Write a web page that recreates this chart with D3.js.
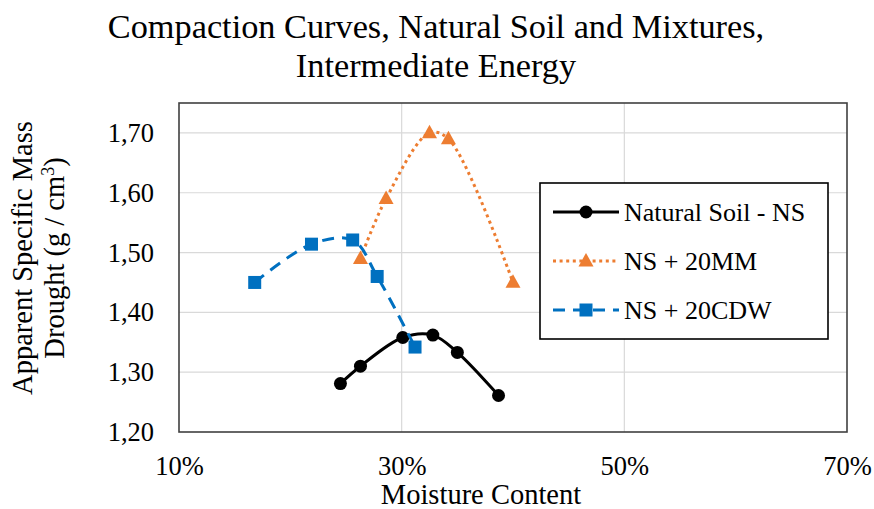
<!DOCTYPE html>
<html>
<head>
<meta charset="utf-8">
<script src="https://cdn.jsdelivr.net/npm/d3@7/dist/d3.min.js"></script>
<style>
  html, body { margin: 0; padding: 0; background: #fff; }
  svg { display: block; font-family: "Liberation Serif", "Times New Roman", serif; }
  svg text { font-family: "Liberation Serif", "Times New Roman", serif; }
</style>
</head>
<body>
<svg id="chart" width="874" height="509"></svg>
<script>
// ---- Data ----
const titleLines = ["Compaction Curves, Natural Soil and Mixtures,", "Intermediate Energy"];
const xTicks = [10, 30, 50, 70];
const yTicks = [1.20, 1.30, 1.40, 1.50, 1.60, 1.70];

const seriesNames = ["Natural Soil - NS", "NS + 20MM", "NS + 20CDW"];
const nsMoisture   = [24.5, 26.3, 30.1, 32.8, 35.0, 38.7];
const nsDensity    = [1.281, 1.310, 1.358, 1.362, 1.333, 1.261];
const mmMoisture   = [26.3, 28.6, 32.5, 34.2, 40.0];
const mmDensity    = [1.490, 1.590, 1.700, 1.690, 1.450];
const cdwMoisture  = [16.8, 21.9, 25.6, 27.8, 31.2];
const cdwDensity   = [1.450, 1.514, 1.521, 1.460, 1.342];

// ---- Layout ----
const svg = d3.select("#chart");
const pL = 179, pR = 847, pT = 103, pB = 432;

const x = d3.scaleLinear().domain([10, 70]).range([pL, pR]);
const y = d3.scaleLinear().domain([1.20, 1.75]).range([pB, pT]);

// Title
svg.append("g").selectAll("text").data(titleLines).join("text")
  .attr("x", 436).attr("y", (d, i) => 38 + i * 39)
  .attr("text-anchor", "middle").attr("font-size", 34.3).attr("fill", "#000")
  .text(d => d);

// Gridlines
svg.append("g").selectAll("line").data(yTicks.filter(v => v > 1.2)).join("line")
  .attr("x1", pL).attr("x2", pR)
  .attr("y1", d => y(d)).attr("y2", d => y(d))
  .attr("stroke", "#d9d9d9").attr("stroke-width", 1.2);
svg.append("g").selectAll("line").data(xTicks.filter(v => v > 10 && v < 70)).join("line")
  .attr("y1", pT).attr("y2", pB)
  .attr("x1", d => x(d)).attr("x2", d => x(d))
  .attr("stroke", "#d9d9d9").attr("stroke-width", 1.2);

// Frame
svg.append("rect").attr("x", pL).attr("y", pT)
  .attr("width", pR - pL).attr("height", pB - pT)
  .attr("fill", "none").attr("stroke", "#404040").attr("stroke-width", 1.6);

// Axes via d3 axis generators (labels only)
const fmtPct = d => d + "%";
const fmtY = d => d3.format(".2f")(d).replace(".", ",");

const xAxis = svg.append("g").attr("transform", `translate(0,${pB})`)
  .call(d3.axisBottom(x).tickValues(xTicks).tickFormat(fmtPct).tickSize(0).tickPadding(0));
xAxis.attr("font-family", null);
xAxis.select(".domain").remove();
xAxis.selectAll("text").attr("font-size", 26.5).attr("fill", "#000")
  .attr("dy", null).attr("y", 43);

const yAxis = svg.append("g").attr("transform", `translate(${pL},0)`)
  .call(d3.axisLeft(y).tickValues(yTicks).tickFormat(fmtY).tickSize(0).tickPadding(0));
yAxis.attr("font-family", null);
yAxis.select(".domain").remove();
yAxis.selectAll("text").attr("font-size", 26.5).attr("fill", "#000")
  .attr("x", -25).attr("dy", "0.32em");

// Axis titles
svg.append("text").attr("x", 481).attr("y", 504)
  .attr("text-anchor", "middle").attr("font-size", 28.5).attr("fill", "#000")
  .text("Moisture Content");

const yt = svg.append("text").attr("transform", "translate(32,258) rotate(-90)")
  .attr("text-anchor", "middle").attr("font-size", 28.5).attr("fill", "#000");
yt.append("tspan").attr("x", 0).attr("y", 0).text("Apparent Specific Mass");
const t2 = yt.append("tspan").attr("x", 0).attr("y", 32);
t2.append("tspan").text("Drought (g / cm");
t2.append("tspan").attr("font-size", 18).attr("dy", -10).text("3");
t2.append("tspan").attr("dy", 10).text(")");

// Series
const styles = [
  { color: "#000000", dash: null, marker: "circle" },
  { color: "#ED7D31", dash: "3,3.6", marker: "triangle" },
  { color: "#0070C0", dash: "12,8", marker: "square" }
];
const seriesData = [
  d3.zip(nsMoisture, nsDensity),
  d3.zip(mmMoisture, mmDensity),
  d3.zip(cdwMoisture, cdwDensity)
];

const line = d3.line().x(d => x(d[0])).y(d => y(d[1])).curve(d3.curveCatmullRom.alpha(0.5));

function drawMarker(g, type, cx, cy, color) {
  if (type === "circle") {
    g.append("circle").attr("cx", cx).attr("cy", cy).attr("r", 6.5).attr("fill", color);
  } else if (type === "square") {
    g.append("rect").attr("x", cx - 6.5).attr("y", cy - 6.5).attr("width", 13).attr("height", 13).attr("fill", color);
  } else {
    const s = 15, h = 13.5;
    g.append("path").attr("d", `M${cx},${cy - h * 0.6}L${cx + s / 2},${cy + h * 0.4}L${cx - s / 2},${cy + h * 0.4}Z`).attr("fill", color);
  }
}

seriesData.forEach((data, i) => {
  const st = styles[i];
  const g = svg.append("g");
  g.append("path").attr("d", line(data)).attr("fill", "none")
    .attr("stroke", st.color).attr("stroke-width", 3)
    .attr("stroke-dasharray", st.dash);
  data.forEach(d => drawMarker(g, st.marker, x(d[0]), y(d[1]), st.color));
});

// Legend
const lg = svg.append("g");
lg.append("rect").attr("x", 540).attr("y", 183).attr("width", 288).attr("height", 156)
  .attr("fill", "#fff").attr("stroke", "#000").attr("stroke-width", 1.6);
const rowY = [212, 261, 310];
seriesNames.forEach((name, i) => {
  const st = styles[i];
  lg.append("line").attr("x1", 553).attr("x2", 619).attr("y1", rowY[i]).attr("y2", rowY[i])
    .attr("stroke", st.color).attr("stroke-width", 3).attr("stroke-dasharray", st.dash);
  drawMarker(lg, st.marker, 586, rowY[i], st.color);
  lg.append("text").attr("x", 624).attr("y", rowY[i] + 9).attr("font-size", 26).attr("fill", "#000").text(name);
});
</script>
</body>
</html>
